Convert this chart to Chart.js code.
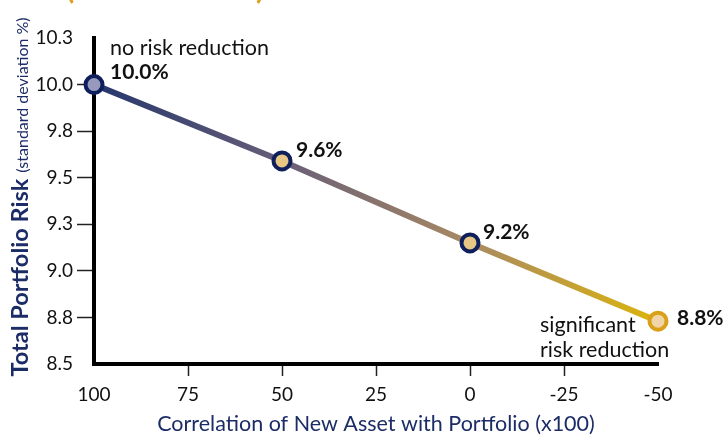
<!DOCTYPE html>
<html>
<head>
<meta charset="utf-8">
<script src="https://cdn.jsdelivr.net/npm/chart.js@4.4.1/dist/chart.umd.min.js"></script>
<style>
html,body{margin:0;padding:0;background:#fff;}
#wrap{width:724px;height:436px;position:relative;}
</style>
</head>
<body>
<div id="wrap"><canvas id="c" width="724" height="436"></canvas></div>
<script>
// ---- data ----
const correlations = [100, 50, 0, -50];
const portfolioRisk = [10.0, 9.59, 9.15, 8.73];
const riskLabels = ['10.0%', '9.6%', '9.2%', '8.8%'];
const yTickValues = [8.5, 8.75, 9.0, 9.25, 9.5, 9.75, 10.0, 10.25];
const xTickValues = [100, 75, 50, 25, 0, -25, -50];
const yTitleMain = 'Total Portfolio Risk';
const yTitleSub = '(standard deviation %)';
const xTitle = 'Correlation of New Asset with Portfolio (x100)';
const noteTop = 'no risk reduction';
const noteBottom = ['significant', 'risk reduction'];

const NAVY = '#1c2c66';
const FONT = 'Lato, "Open Sans", sans-serif';

const pointFills = ['#9799bd', '#e8c785', '#e8c785', '#f0d5a8'];
const pointBorders = ['#0e1f5c', '#0e1f5c', '#0e1f5c', '#d9a018'];

function lineGradient(ctx) {
  const chart = ctx.chart;
  const area = chart.chartArea;
  if (!area) return NAVY;
  const g = chart.ctx.createLinearGradient(area.left, 0, area.right, 0);
  g.addColorStop(0, '#25366c');
  g.addColorStop(0.33, '#675e78');
  g.addColorStop(0.67, '#a98a62');
  g.addColorStop(1, '#dcb40c');
  return g;
}

function fitFont(c, text, weight, baseSize, target) {
  c.font = weight + ' ' + baseSize + 'px ' + FONT;
  const w = c.measureText(text).width;
  return baseSize * target / w;
}

const annotate = {
  id: 'annotate',
  afterDraw(chart) {
    const c = chart.ctx;
    const xs = chart.scales.x, ys = chart.scales.y;
    c.save();
    // data labels
    c.fillStyle = '#111';
    c.font = 'bold 21px ' + FONT;
    c.textBaseline = 'middle';
    c.textAlign = 'left';
    const offs = [[16, -12], [14, -11], [13, -11], [19, -3]];
    correlations.forEach((cv, i) => {
      const px = xs.getPixelForValue(cv), py = ys.getPixelForValue(portfolioRisk[i]);
      c.fillText(riskLabels[i], px + offs[i][0], py + offs[i][1]);
    });
    // notes
    c.font = '21.5px ' + FONT;
    c.fillStyle = '#111';
    const p0x = xs.getPixelForValue(correlations[0]);
    const p0y = ys.getPixelForValue(portfolioRisk[0]);
    c.fillText(noteTop, p0x + 16, p0y - 37);
    const p3x = xs.getPixelForValue(correlations[3]);
    const p3y = ys.getPixelForValue(portfolioRisk[3]);
    c.fillText(noteBottom[0], p3x - 118, p3y + 4);
    c.fillText(noteBottom[1], p3x - 118, p3y + 29);

    // y title (rotated, mixed sizes)
    c.save();
    c.translate(28, 197);
    c.rotate(-Math.PI / 2);
    c.fillStyle = NAVY;
    c.textBaseline = 'alphabetic';
    c.textAlign = 'left';
    const s1 = Math.min(26, fitFont(c, yTitleMain, 'bold', 24, 198));
    const s2 = Math.min(16, fitFont(c, yTitleSub, 'normal', 14, 160));
    c.font = 'bold ' + s1 + 'px ' + FONT;
    const w1 = c.measureText(yTitleMain).width;
    const gap = 6;
    c.font = s2 + 'px ' + FONT;
    const w2 = c.measureText(yTitleSub).width;
    const start = -(w1 + gap + w2) / 2;
    c.font = 'bold ' + s1 + 'px ' + FONT;
    c.fillText(yTitleMain, start, 0);
    c.font = s2 + 'px ' + FONT;
    c.fillText(yTitleSub, start + w1 + gap, 0);
    c.restore();

    // x title
    c.fillStyle = NAVY;
    c.font = '21.5px ' + FONT;
    c.textAlign = 'center';
    c.textBaseline = 'middle';
    c.fillText(xTitle, (chart.chartArea.left + chart.chartArea.right) / 2, 424);

    // clipped heading parentheses
    c.fillStyle = '#e0a020';
    c.font = 'bold 30px ' + FONT;
    c.textBaseline = 'alphabetic';
    c.fillText('(', 70, -1);
    c.fillText(')', 260, -1);
    c.restore();
  }
};

new Chart(document.getElementById('c'), {
  type: 'line',
  data: {
    datasets: [{
      data: correlations.map((x, i) => ({ x: x, y: portfolioRisk[i] })),
      borderColor: lineGradient,
      borderWidth: 6,
      tension: 0,
      pointRadius: 8.5,
      pointHoverRadius: 8.5,
      pointBorderWidth: 4,
      pointBackgroundColor: pointFills,
      pointBorderColor: pointBorders,
      clip: false
    }]
  },
  plugins: [annotate],
  options: {
    responsive: false,
    animation: false,
    events: [],
    layout: { padding: { top: 38, right: 66, left: 0, bottom: 0 } },
    plugins: { legend: { display: false }, tooltip: { enabled: false }, title: { display: false } },
    scales: {
      x: {
        type: 'linear',
        reverse: true,
        min: -50, max: 100,
        afterBuildTicks(s) { s.ticks = xTickValues.map(v => ({ value: v })); },
        afterFit(s) { s.height = 72; },
        ticks: { color: '#111', font: { family: FONT, size: 19 }, padding: 7, maxRotation: 0, autoSkip: false,
          callback: v => String(v) },
        grid: { drawOnChartArea: false, drawTicks: true, tickLength: 12, tickWidth: 1.5,
          tickColor: ctx => (ctx.tick && (ctx.tick.value === 100 || ctx.tick.value === -50)) ? 'rgba(0,0,0,0)' : '#222' },
        border: { display: true, color: '#000', width: 4 }
      },
      y: {
        min: 8.5, max: 10.25,
        afterBuildTicks(s) { s.ticks = yTickValues.map(v => ({ value: v })); },
        afterFit(s) { s.width = 94; },
        ticks: { color: '#111', font: { family: FONT, size: 19 }, padding: 4, autoSkip: false,
          callback: v => v.toFixed(1) },
        grid: { drawOnChartArea: false, drawTicks: true, tickLength: 17, tickWidth: 1.5,
          tickColor: ctx => (ctx.tick && (ctx.tick.value === 8.5 || ctx.tick.value === 10.25)) ? 'rgba(0,0,0,0)' : '#222' },
        border: { display: true, color: '#000', width: 4 }
      }
    }
  }
});
</script>
</body>
</html>
